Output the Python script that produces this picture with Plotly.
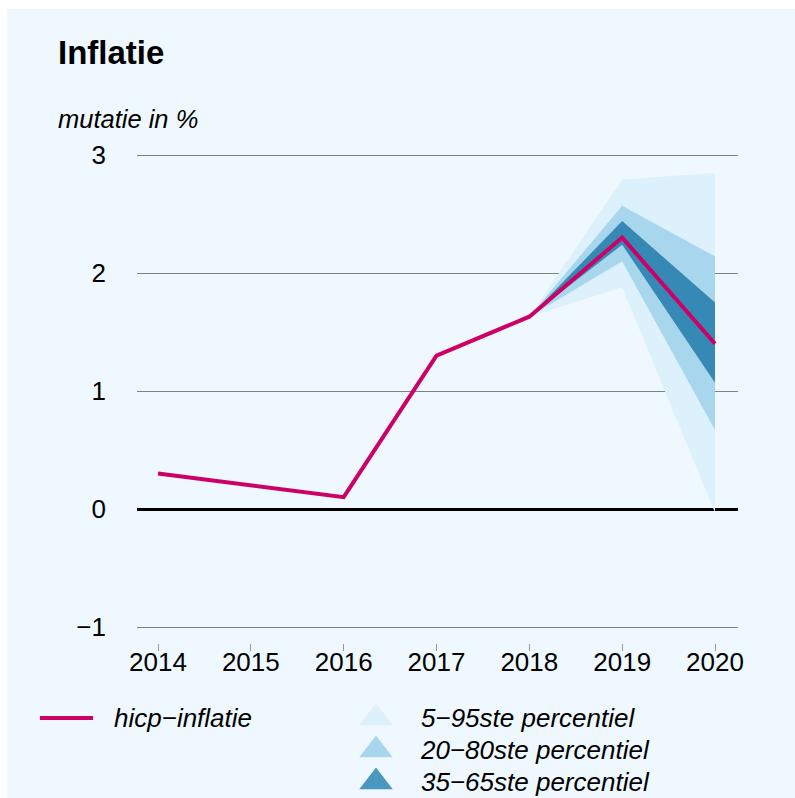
import plotly.graph_objects as go

# ---- data ----
years = [2014, 2015, 2016, 2017, 2018, 2019, 2020]
hicp = [0.30, 0.20, 0.10, 1.30, 1.63, 2.30, 1.40]

fan_years = [2018, 2019, 2020]
p5 = [1.63, 1.88, -0.03]
p95 = [1.63, 2.79, 2.85]
p20 = [1.63, 2.10, 0.67]
p80 = [1.63, 2.57, 2.14]
p35 = [1.63, 2.24, 1.07]
p65 = [1.63, 2.44, 1.75]

y_ticks = [-1, 0, 1, 2, 3]
line_label = "hicp−inflatie"
band_labels = ["5−95ste percentiel", "20−80ste percentiel", "35−65ste percentiel"]

# ---- styles ----
W, H = 795, 798
BG = "#EEF8FE"
PINK = "#CC0066"
BAND_COLORS = ["#DCF1FC", "#A8D6EC", "#3789B5"]
KEY_COLORS = ["#DCF1FC", "#A8D6EC", "#4A97BF"]
FONT = "Liberation Sans, Arial, Helvetica, sans-serif"
FS = 26


def fx(px):
    return px / W


def fy(py):
    return 1 - py / H


fig = go.Figure()

bands = [(p5, p95), (p20, p80), (p35, p65)]
for (lo, hi), col in zip(bands, BAND_COLORS):
    fig.add_trace(go.Scatter(
        x=fan_years + fan_years[::-1],
        y=hi + lo[::-1],
        fill="toself", fillcolor=col, mode="lines",
        line=dict(width=0, color=col),
        hoverinfo="skip", showlegend=False,
    ))

fig.add_trace(go.Scatter(
    x=years, y=hicp, mode="lines",
    line=dict(color=PINK, width=4),
    xaxis="x4", yaxis="y",
    showlegend=False,
))

# key: triangles
fig.add_trace(go.Scatter(
    x=[0] * len(band_labels), y=band_labels, mode="markers",
    marker=dict(symbol="triangle-up", size=29, color=KEY_COLORS, line=dict(width=0)),
    xaxis="x2", yaxis="y2", hoverinfo="skip", showlegend=False, cliponaxis=False,
))
# key: line
fig.add_trace(go.Scatter(
    x=[0], y=[line_label], mode="markers",
    marker=dict(symbol="line-ew", size=38, line=dict(color=PINK, width=4)),
    xaxis="x3", yaxis="y3", hoverinfo="skip", showlegend=False, cliponaxis=False,
))

# plot geometry (page pixels)
x_left, x_right = 137.0, 738.0
x_2014, x_2020 = 158.0, 715.0
y_3, y_m1 = 155.0, 627.0
y_top, y_bot = 152.0, 651.0
ppu = (y_m1 - y_3) / 4.0
yr_px = (x_2020 - x_2014) / 6.0
x_range = [2014 - (x_2014 - x_left) / yr_px, 2020 + (x_right - x_2020) / yr_px]

fig.update_layout(
    width=W, height=H,
    margin=dict(l=0, r=0, t=0, b=0, pad=0, autoexpand=False),
    paper_bgcolor="white",
    plot_bgcolor="rgba(0,0,0,0)",
    font=dict(family=FONT, size=FS, color="black"),
    showlegend=False,
    xaxis=dict(
        domain=[fx(x_left), fx(x_right)],
        range=x_range,
        tickvals=years, ticks="inside", ticklen=7, tickcolor="#999999", tickwidth=1,
        showticklabels=False,
        showgrid=False, zeroline=False, showline=False,
    ),
    xaxis4=dict(
        domain=[fx(x_left), fx(x_right)],
        range=x_range, overlaying="x", anchor="free", position=fy(644.4),
        tickvals=years, ticks="", showgrid=False, zeroline=False, showline=False,
        tickfont=dict(size=FS), ticklabelstandoff=0,
    ),
    yaxis=dict(
        domain=[fy(y_bot), fy(y_top)],
        range=[-1 - (y_bot - y_m1) / ppu, 3 + (y_3 - y_top) / ppu],
        tickvals=y_ticks, ticks="", showgrid=True, gridcolor="#808080", gridwidth=1,
        zeroline=True, zerolinecolor="black", zerolinewidth=3, showline=False,
        tickfont=dict(size=FS), ticklabelstandoff=30,
    ),
    xaxis2=dict(domain=[fx(360), fx(392)], range=[-1, 1], visible=False, fixedrange=True),
    yaxis2=dict(
        domain=[fy(798), fy(702)], anchor="x2", side="right", type="category",
        categoryarray=band_labels, range=[2.5, -0.5],
        showgrid=False, zeroline=False, showline=False, ticks="",
        tickfont=dict(size=FS, style="italic"), ticklabelstandoff=28,
    ),
    xaxis3=dict(domain=[fx(40), fx(93)], range=[-1, 1], visible=False, fixedrange=True),
    yaxis3=dict(
        domain=[fy(734), fy(702)], anchor="x3", side="right", type="category",
        range=[-0.5, 0.5],
        showgrid=False, zeroline=False, showline=False, ticks="",
        tickfont=dict(size=FS, style="italic"), ticklabelstandoff=20,
    ),
    shapes=[dict(
        type="rect", xref="paper", yref="paper",
        x0=fx(7), x1=1, y0=0, y1=fy(9),
        fillcolor=BG, line=dict(width=0), layer="below",
    )],
    annotations=[
        dict(text="<b>Inflatie</b>", xref="paper", yref="paper",
             x=fx(56), y=fy(53), xanchor="left", yanchor="middle",
             showarrow=False, font=dict(size=33)),
        dict(text="<i>mutatie in %</i>", xref="paper", yref="paper",
             x=fx(56), y=fy(119), xanchor="left", yanchor="middle",
             showarrow=False, font=dict(size=25.5)),
    ],
)

fig.write_html(
    "out.html",
    config={"displayModeBar": False, "staticPlot": True},
    post_script=(
        "document.documentElement.style.margin='0';"
        "document.documentElement.style.padding='0';"
        "document.documentElement.style.overflow='hidden';"
        "document.body.style.margin='0';"
        "document.body.style.padding='0';"
        "document.body.style.overflow='hidden';"
        "var gd=document.getElementById('{plot_id}');"
        "gd.style.position='fixed';gd.style.left='0px';gd.style.top='0px';"
    ),
)
